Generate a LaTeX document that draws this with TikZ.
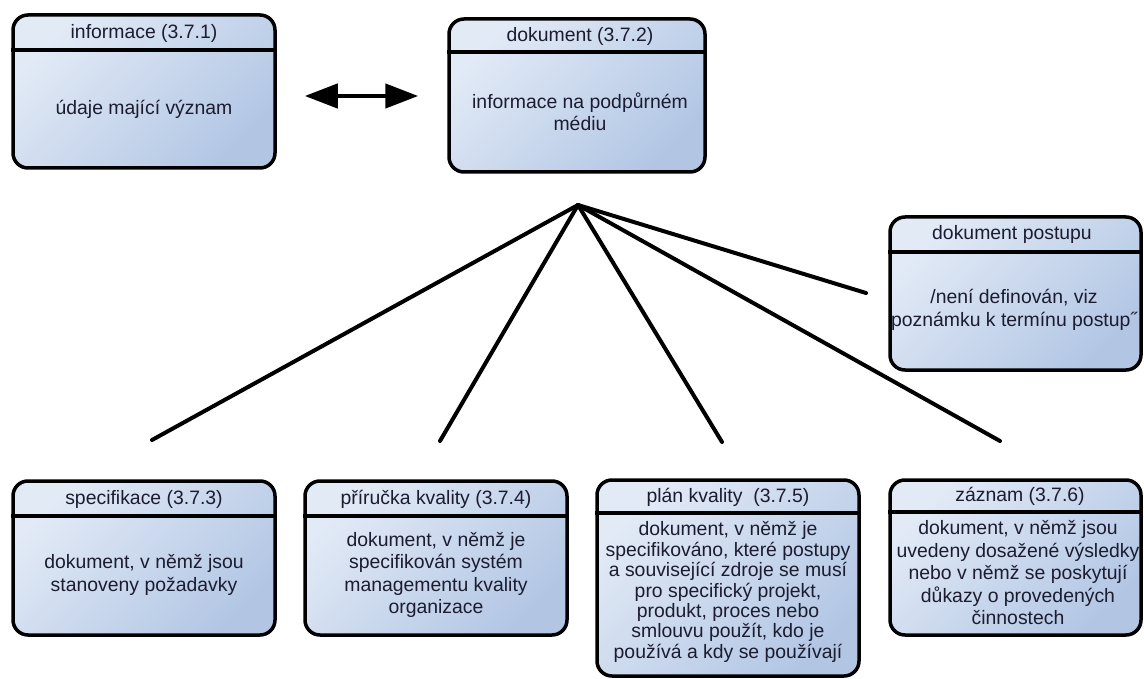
\documentclass[tikz,border=0pt]{standalone}
\usepackage{fontspec}
\setmainfont{Liberation Sans}
\usetikzlibrary{arrows.meta}
\definecolor{boxlight}{RGB}{226,234,246}
\definecolor{boxdark}{RGB}{178,198,228}
\definecolor{ink}{RGB}{28,28,48}
\tikzset{
  termbox/.style={draw=black, line width=3.5pt, rounded corners=15pt,
    top color=boxlight, bottom color=boxdark, shading angle=45,
    inner sep=0pt},
  divider/.style={draw=black, line width=3.5pt},
  headtext/.style={text=ink, font=\fontsize{19.4}{22.5}\selectfont, inner sep=0pt},
  bodytext/.style={text=ink, font=\fontsize{19.4}{22.5}\selectfont, align=center, inner sep=0pt},
  tighttext/.style={text=ink, font=\fontsize{19.4}{20.4}\selectfont, align=center, inner sep=0pt},
  link/.style={draw=black, line width=4pt, line cap=round},
  dbl/.style={draw=black, line width=4.5pt,
    {Triangle[length=33pt,width=24pt]}-{Triangle[length=33pt,width=24pt]}}
}
\begin{document}
\begin{tikzpicture}[x=1pt,y=-1pt]
\useasboundingbox[fill=white] (0,0) rectangle (1144,679);

% boxes: frame, header rule, header text, body text
\node[termbox, minimum width=262pt, minimum height=153pt] (info) at (144,91.5) {};
\draw[divider] (info.west |- 0,50) -- (info.east |- 0,50);
\node[headtext] (infoh) at (144,33) {informace (3.7.1)};
\node[bodytext] (infob) at (144,109) {údaje mající význam};

\node[termbox, minimum width=256pt, minimum height=153pt] (dok) at (577,95.5) {};
\draw[divider] (dok.west |- 0,52) -- (dok.east |- 0,52);
\node[headtext] (dokh) at (580,36) {dokument (3.7.2)};
\node[bodytext] (dokb) at (580,112) {informace na podpůrném\\médiu};

\node[termbox, minimum width=251pt, minimum height=153pt] (post) at (1015.5,293.5) {};
\draw[divider] (post.west |- 0,252) -- (post.east |- 0,252);
\node[headtext] (posth) at (1012,234) {dokument postupu};
\node[bodytext] (postb) at (1014,310) {/není definován, viz\\poznámku k termínu postup˝};

\node[termbox, minimum width=262pt, minimum height=154pt] (spec) at (144,558) {};
\draw[divider] (spec.west |- 0,516) -- (spec.east |- 0,516);
\node[headtext] (spech) at (144,499) {specifikace (3.7.3)};
\node[bodytext] (specb) at (144,575) {dokument, v němž jsou\\stanoveny požadavky};

\node[termbox, minimum width=262pt, minimum height=154pt] (prir) at (436,558) {};
\draw[divider] (prir.west |- 0,516) -- (prir.east |- 0,516);
\node[headtext] (prirh) at (436,499) {příručka kvality (3.7.4)};
\node[bodytext] (prirb) at (436,575) {dokument, v němž je\\specifikován systém\\managementu kvality\\organizace};

\node[termbox, minimum width=262pt, minimum height=196pt] (plan) at (728,578) {};
\draw[divider] (plan.west |- 0,513) -- (plan.east |- 0,513);
\node[headtext] (planh) at (728,497) {plán kvality~ (3.7.5)};
\node[tighttext] (planb) at (728,592) {dokument, v němž je\\specifikováno, které postupy\\a související zdroje se musí\\pro specifický projekt,\\produkt, proces nebo\\smlouvu použít, kdo je\\používá a kdy se používají};

\node[termbox, minimum width=251pt, minimum height=155pt] (zaz) at (1015.5,557.5) {};
\draw[divider] (zaz.west |- 0,512) -- (zaz.east |- 0,512);
\node[headtext] (zazh) at (1020,496) {záznam (3.7.6)};
\node[bodytext] (zazb) at (1018,573) {dokument, v němž jsou\\uvedeny dosažené výsledky\\nebo v němž se poskytují\\důkazy o provedených\\činnostech};

% two-way relation between information and document
\draw[dbl, shorten <=28pt, shorten >=29pt] (info.east |- 0,96) -- (dok.west |- 0,96);

% fan of generalisation lines from the document
\coordinate (apex) at (578,205);
\coordinate (espec) at (152,440);
\coordinate (eprir) at (440,441);
\coordinate (eplan) at (722,442);
\coordinate (ezaz) at (1000,441);
\coordinate (epost) at (866,293);
\draw[link] (apex) -- (espec);
\draw[link] (apex) -- (eprir);
\draw[link] (apex) -- (eplan);
\draw[link] (apex) -- (ezaz);
\draw[link] (apex) -- (epost);
\end{tikzpicture}
\end{document}
